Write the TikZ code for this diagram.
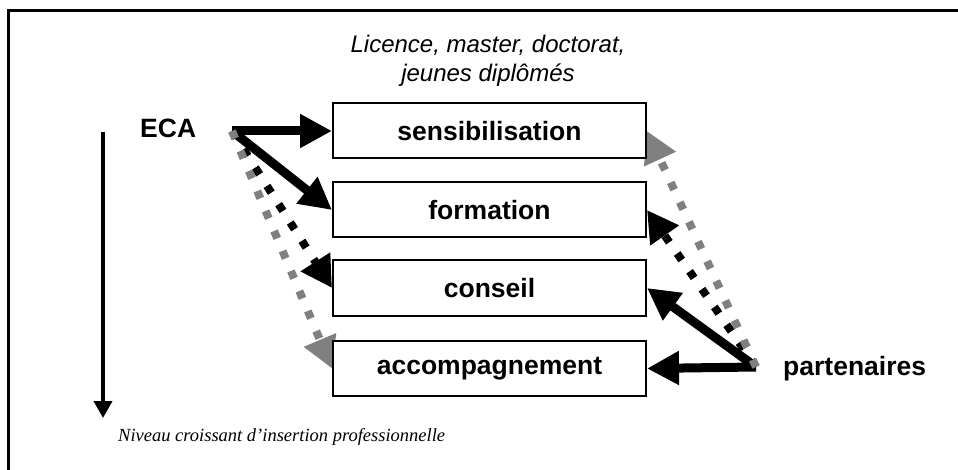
\documentclass[tikz,border=0pt]{standalone}
\usepackage{fontspec}
\setmainfont{Liberation Sans}
\newfontfamily\timesit{Liberation Serif}
\usetikzlibrary{arrows.meta, positioning, backgrounds}
\definecolor{dotgrey}{RGB}{128,128,128}

\tikzset{
  stage/.style={draw, line width=2pt, fill=white, minimum width=313pt, minimum height=55pt,
    inner sep=0pt, font=\bfseries\fontsize{26.5}{30}\selectfont},
  actor/.style={anchor=base west, inner sep=0pt, font=\bfseries\fontsize{26.5}{30}\selectfont},
  fat/.style={line width=9pt, -{Triangle[length=32pt,width=32pt]}},
  dots/.style={line width=8pt, dash pattern=on 8pt off 13.7pt, -{Triangle[length=31pt,width=33pt]}},
}

\begin{document}
\begin{tikzpicture}[x=1pt, y=-1pt]
  \useasboundingbox (0,0) rectangle (958,470);
  % open frame
  \draw[line width=3pt] (8,470) -- (8,11) -- (958,11);
  % the four stages
  \node[stage] (sens) at (489.5,131) {sensibilisation};
  \node[stage] (form) at (489.5,210) {formation};
  \node[stage] (cons) at (489.5,288) {conseil};
  \node[stage] (acc)  at (489.5,368.5) {accompagnement};
  % public
  \node[anchor=base, inner sep=0pt, font=\itshape\fontsize{24}{28}\selectfont] (pub1) at (488,53) {Licence, master, doctorat,};
  \node[anchor=base, inner sep=0pt, font=\itshape\fontsize{24}{28}\selectfont] (pub2) at (488,82) {jeunes diplômés};
  % actors
  \node[actor] (eca) at (140,138) {ECA};
  \node[actor] (part) at (783,375) {partenaires};
  \coordinate (ecaout) at (232,131);
  \coordinate (partout) at (756,367);
  % arrows under the boxes
  \begin{pgfonlayer}{background}
    \draw[fat] (ecaout) -- (sens.west);
    \draw[fat] (ecaout) -- (form.west);
    \draw[dots] (ecaout) -- (cons.west);
    \draw[dots, dotgrey] (ecaout) -- (acc.west);
    \draw[fat] (partout) -- (acc.east);
    \draw[fat] (partout) -- (cons.east);
    \draw[dots] (partout) -- (form.east);
    \draw[dots, dotgrey] (partout) -- (sens.east);
  \end{pgfonlayer}
  % level axis
  \coordinate (axtop) at (103,132);
  \coordinate (axbot) at (103,418);
  \draw[line width=4pt, -{Triangle[length=17pt,width=18pt]}] (axtop) -- (axbot);
  \node[anchor=base west, inner sep=0pt, font=\timesit\itshape\fontsize{18.5}{22}\selectfont] (niveau) at (118,441) {Niveau croissant d’insertion professionnelle};
\end{tikzpicture}
\end{document}
